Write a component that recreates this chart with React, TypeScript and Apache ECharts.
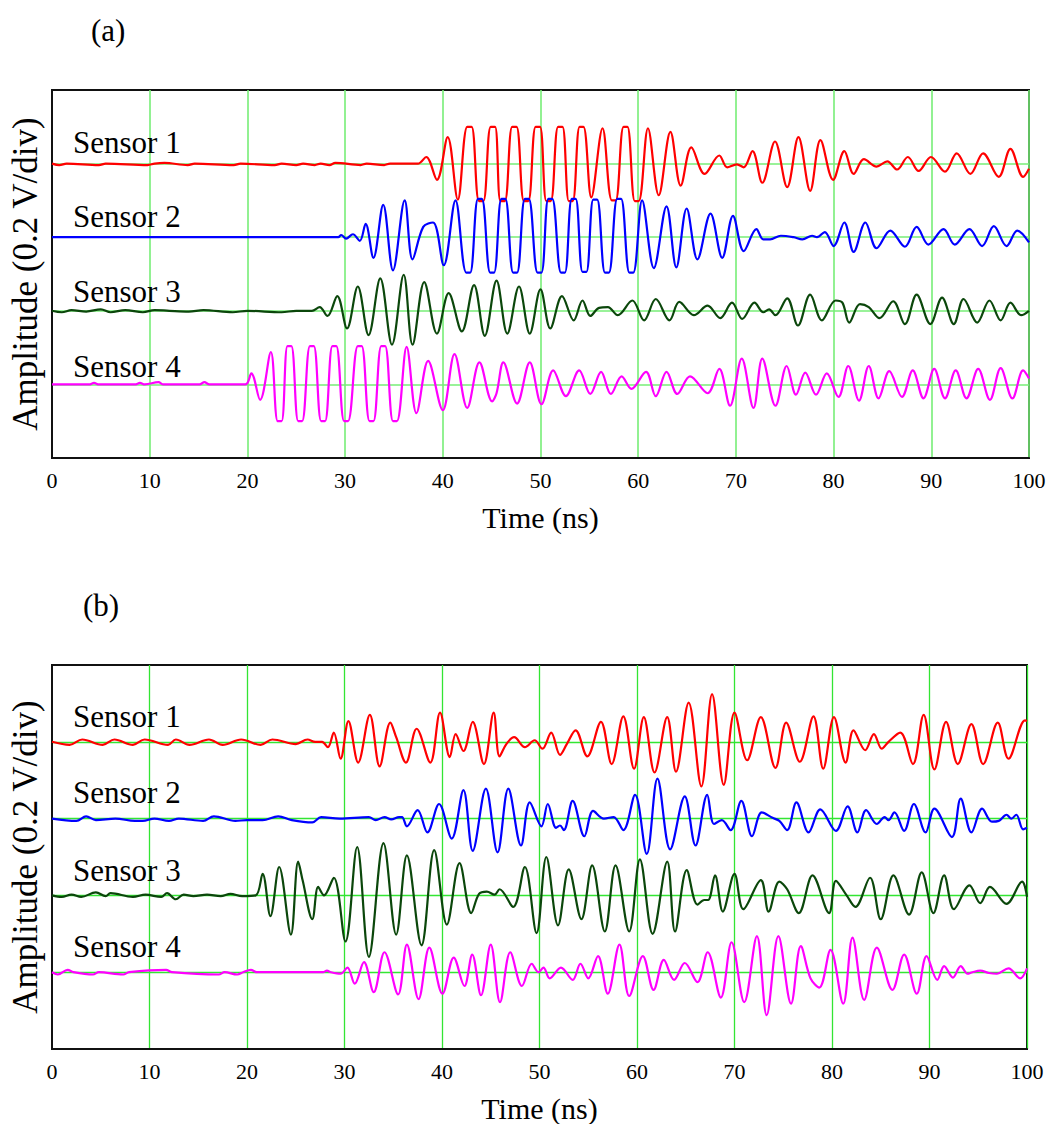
import React, { useEffect, useRef } from "react";
import * as echarts from "echarts";

type P = [number, number];

const xTickStep = 10;
const sensorNames = ["Sensor 1", "Sensor 2", "Sensor 3", "Sensor 4"];
const sensorBaselines = [4, 3, 2, 1];
const sensorColors = ["#ff0000", "#0000ff", "#0b470b", "#ff00ff"];
const panelTags = ["(a)", "(b)"];
const xAxisTitle = "Time (ns)";
const yAxisTitle = "Amplitude (0.2 V/div)";

// Panel (a): [time ns, offset from the sensor's baseline in divisions]
const a1: P[] = [
  [0, 0], [0.75, -0.02], [1.5, 0], [4.8, -0.02], [5.5, 0], [9.8, -0.02], [10.5, 0], [11.5, 0.01], [13.9, -0.02], [14.6, 0],
  [18.6, -0.02], [19.3, 0], [22.8, -0.02], [23.5, 0], [25, -0.02], [25.7, 0], [26.9, -0.02], [27.5, 0], [28.4, -0.02], [29, 0.01],
  [31.6, -0.02], [32.2, 0], [34.0, -0.02], [34.6, 0], [37.45, 0], [38.3, 0.09], [39.4, -0.22], [40.5, 0.36], [41.54, -0.49],
  [42.5, 0.5], [42.95, 0.5], [43.7, -0.51], [44.15, -0.51], [44.9, 0.5], [45.35, 0.5], [45.9, -0.51], [46.35, -0.51],
  [47.1, 0.5], [47.55, 0.5], [48.3, -0.51], [48.75, -0.51], [49.5, 0.5], [49.95, 0.5], [50.6, -0.51], [51.05, -0.51],
  [51.8, 0.5], [52.25, 0.5], [52.9, -0.51], [53.3, -0.51], [54.0, 0.5], [54.4, 0.5], [55.2, -0.46], [56.35, 0.48],
  [57.3, -0.5], [57.7, -0.5], [58.5, 0.5], [58.9, 0.5], [59.65, -0.51], [60.05, -0.51], [61.0, 0.48], [62.1, -0.43],
  [63.3, 0.43], [64.35, -0.3], [65.44, 0.22], [66.8, -0.14], [68.3, 0.11], [69.1, -0.05], [70.1, -0.01], [70.8, -0.05],
  [71.7, 0.17], [72.7, -0.26], [74.0, 0.3], [75.25, -0.32], [76.4, 0.36], [77.6, -0.37], [78.65, 0.32], [79.95, -0.22],
  [81.1, 0.17], [82.05, -0.14], [83.1, 0.06], [84.4, -0.04], [85.5, 0.03], [86.5, -0.08], [87.6, 0.09], [88.7, -0.1],
  [89.96, 0.09], [91.4, -0.11], [92.6, 0.14], [94.0, -0.14], [95.3, 0.14], [96.9, -0.18], [98.1, 0.2], [99.4, -0.18], [100, -0.07],
];
const a2: P[] = [
  [0, 0], [29.3, 0], [29.6, 0.03], [30.1, -0.02], [30.8, 0.04], [31.5, -0.05], [32.1, 0.18], [32.9, -0.28], [33.9, 0.44],
  [34.9, -0.45], [36.1, 0.5], [36.9, -0.3], [38.0, 0.14], [39.0, 0.2], [40.1, -0.38], [41.3, 0.5],
  [42.4, -0.48], [42.8, -0.48], [43.6, 0.52], [44.0, 0.52], [44.85, -0.48], [45.25, -0.48], [46.0, 0.52], [46.4, 0.52],
  [47.2, -0.48], [47.6, -0.48], [48.4, 0.52], [48.8, 0.52], [49.7, -0.48], [50.1, -0.48], [50.8, 0.52], [51.2, 0.52],
  [52.1, -0.48], [52.5, -0.48], [53.2, 0.52], [53.6, 0.52], [54.3, -0.47], [54.7, -0.47], [55.4, 0.51], [55.8, 0.51],
  [56.6, -0.48], [57.0, -0.48], [57.85, 0.52], [58.25, 0.52], [59.1, -0.48], [59.5, -0.48], [60.4, 0.5], [61.6, -0.42],
  [62.9, 0.42], [63.9, -0.41], [64.96, 0.39], [66.06, -0.3], [67.4, 0.32], [68.6, -0.28], [69.7, 0.29], [70.8, -0.19],
  [72.1, 0.11], [72.8, -0.03], [73.5, -0.03], [74.6, 0.02], [75.9, 0], [76.8, -0.03], [77.8, 0.02], [78.3, 0], [79.1, 0.07],
  [80.0, -0.12], [81.1, 0.2], [82.05, -0.2], [83.25, 0.2], [84.4, -0.15], [85.8, 0.09], [87.3, -0.13], [88.5, 0.14],
  [89.7, -0.1], [91.25, 0.11], [92.4, -0.1], [93.9, 0.11], [95.2, -0.12], [96.4, 0.15], [97.7, -0.12], [98.8, 0.09], [100, -0.07],
];
const a3: P[] = [
  [0, 0], [1, -0.02], [2, 0.01], [3.5, -0.01], [5, 0.02], [6, -0.02], [7.5, 0.01], [9.3, -0.02], [10.5, 0.01], [12, 0],
  [14, -0.01], [15.5, 0.01], [18.5, -0.02], [20, 0], [23.5, -0.02], [25, 0], [26.6, 0], [27.4, 0.05], [28.2, -0.07],
  [29.2, 0.2], [30.2, -0.24], [31.3, 0.33], [32.4, -0.33], [33.6, 0.44], [34.8, -0.46], [36.0, 0.49], [36.9, -0.46],
  [38.1, 0.39], [39.4, -0.31], [40.6, 0.24], [41.95, -0.28], [43.2, 0.35], [44.3, -0.34], [45.5, 0.41], [46.6, -0.31],
  [47.8, 0.33], [48.9, -0.31], [50.0, 0.29], [51.0, -0.24], [52.2, 0.2], [53.4, -0.13], [54.3, 0.14], [55.1, -0.07],
  [56.0, 0.04], [56.9, 0.05], [57.9, -0.06], [59.4, 0.14], [60.6, -0.13], [61.8, 0.16], [63.2, -0.13], [64.2, 0.12],
  [65.7, -0.06], [67.1, 0.07], [68.4, -0.1], [69.6, 0.11], [70.65, -0.11], [71.9, 0.11], [72.8, -0.02], [73.4, 0.02],
  [74.05, -0.06], [75.25, 0.17], [76.35, -0.2], [77.6, 0.22], [78.8, -0.13], [80.2, 0.14], [80.9, 0.11], [81.6, -0.16],
  [82.7, 0.09], [83.6, 0.05], [84.7, -0.1], [86.1, 0.13], [87.3, -0.18], [88.5, 0.22], [89.9, -0.18], [91.1, 0.18],
  [92.3, -0.18], [93.3, 0.16], [94.7, -0.16], [95.95, 0.14], [97.1, -0.13], [98.1, 0.11], [99.2, -0.06], [100, 0],
];
const a4: P[] = [
  [0, 0], [3.8, 0], [4.3, 0.02], [4.8, 0], [8.5, 0], [9.0, 0.02], [9.5, 0], [10.9, 0.03], [11.4, 0], [15.1, 0], [15.6, 0.03],
  [16.1, 0], [19.8, 0], [20.4, 0.15], [21.3, -0.21], [22.4, 0.44],
  [23.1, -0.5], [23.5, -0.5], [24.1, 0.52], [24.5, 0.52], [25.2, -0.5], [25.6, -0.5], [26.4, 0.52], [26.8, 0.52],
  [27.55, -0.5], [27.95, -0.5], [28.7, 0.52], [29.1, 0.52], [29.9, -0.5], [30.3, -0.5], [31.3, 0.52], [31.7, 0.52],
  [32.5, -0.5], [32.9, -0.5], [33.7, 0.52], [34.1, 0.52], [34.9, -0.5], [35.3, -0.5], [36.3, 0.51], [37.3, -0.39],
  [38.5, 0.32], [40.0, -0.35], [41.2, 0.41], [42.5, -0.32], [43.75, 0.3], [45.05, -0.23], [45.5, -0.12], [46.2, 0.3],
  [47.6, -0.26], [48.9, 0.3], [50.1, -0.27], [51.3, 0.19], [52.6, -0.16], [53.96, 0.19], [55.1, -0.13], [56.2, 0.17],
  [57.2, -0.13], [58.3, 0.11], [59.3, -0.06], [60.8, 0.17], [61.8, -0.16], [62.9, 0.17], [64.0, -0.13], [65.3, 0.11],
  [67.1, -0.12], [68.3, 0.21], [69.4, -0.29], [70.6, 0.35], [71.8, -0.32], [72.7, 0.35], [74.05, -0.29], [75.2, 0.25],
  [76.15, -0.14], [77.1, 0.16], [78.2, -0.14], [79.3, 0.15], [80.5, -0.17], [81.5, 0.25], [82.6, -0.22], [83.6, 0.25],
  [84.6, -0.19], [85.7, 0.18], [87.0, -0.17], [88.1, 0.19], [89.2, -0.19], [90.3, 0.21], [91.4, -0.19], [92.5, 0.19],
  [93.6, -0.19], [94.8, 0.21], [96.0, -0.21], [97.1, 0.22], [98.3, -0.19], [99.4, 0.19], [100, 0.08],
];

// Panel (b)
const b1: P[] = [
  [0, 0], [1.8, -0.04], [3.1, 0.03], [5.2, -0.04], [6.4, 0.03], [8.3, -0.04], [9.5, 0.03], [11.9, -0.04], [12.7, 0.03],
  [14.1, -0.04], [16.1, 0.03], [17.5, -0.04], [19.4, 0.03], [21.4, -0.04], [22.6, 0.03], [25.0, -0.03], [26.2, 0.03],
  [27.0, 0], [27.7, 0], [28.3, -0.07], [28.9, 0.12], [29.6, -0.22], [30.4, 0.27], [31.4, -0.27], [32.6, 0.35], [33.6, -0.32],
  [34.7, 0.25], [35.3, 0.06], [36.3, -0.27], [37.4, 0.17], [38.8, -0.27], [39.8, 0.38], [40.8, -0.2], [41.4, 0.1],
  [42.2, -0.12], [43.15, 0.26], [44.3, -0.29], [45.3, 0.38], [45.9, -0.19], [46.6, -0.03], [47.4, 0.06], [48.5, -0.07],
  [49.5, 0.02], [50.3, -0.09], [51.2, 0.12], [52.1, -0.17], [52.8, -0.03], [53.7, 0.15], [54.9, -0.19], [56.3, 0.26],
  [57.4, -0.29], [58.6, 0.33], [59.7, -0.35], [60.7, 0.32], [61.8, -0.4], [63.1, 0.32], [64.0, -0.39], [65.3, 0.51],
  [66.6, -0.58], [67.7, 0.62], [68.9, -0.56], [70.0, 0.38], [71.3, -0.24], [72.7, 0.32], [74.2, -0.34], [75.3, 0.25],
  [76.7, -0.26], [78.1, 0.33], [79.1, -0.35], [80.2, 0.32], [81.4, -0.27], [82.2, 0.15], [83.4, -0.11], [84.3, 0.1],
  [85.1, -0.09], [85.8, 0], [87.0, 0.12], [88.3, -0.29], [89.4, 0.35], [90.5, -0.36], [91.7, 0.26], [92.9, -0.29],
  [94.3, 0.23], [95.5, -0.29], [97.0, 0.25], [98.1, -0.22], [99.8, 0.28], [100, 0.27],
];
const b2: P[] = [
  [0, 0], [2.5, -0.03], [3.5, 0.03], [4.5, -0.02], [6.5, 0], [8.5, -0.03], [9.3, -0.03], [10.5, 0], [12, -0.03], [13, 0],
  [15.5, -0.03], [16.6, 0.03], [18.8, -0.03], [20, -0.02], [21.6, -0.02], [23.2, 0.03], [24.6, -0.02], [26.7, -0.05],
  [27.6, 0.02], [29.5, 0], [32.5, 0.02], [33.2, -0.02], [34.1, 0.02], [34.8, -0.01], [35.6, 0.02], [35.9, 0.02],
  [36.4, -0.1], [37.5, 0.11], [38.5, -0.18], [39.7, 0.19], [41.0, -0.26], [42.2, 0.37], [43.15, -0.42], [44.5, 0.39],
  [45.7, -0.44], [46.8, 0.39], [48.1, -0.35], [49.0, 0.21], [50.2, -0.1], [50.85, 0.19], [51.7, -0.12], [52.1, -0.09],
  [52.5, -0.15], [53.4, 0.23], [54.6, -0.23], [55.5, 0.1], [56.6, 0], [57.6, 0.02], [58.6, -0.15], [59.8, 0.31],
  [61.0, -0.46], [62.1, 0.52], [63.4, -0.4], [64.9, 0.29], [66.0, -0.35], [67.2, 0.31], [67.9, -0.07], [68.7, -0.02],
  [69.6, -0.15], [70.7, 0.23], [71.8, -0.23], [72.8, 0.08], [73.9, 0.01], [74.6, -0.03], [75.4, -0.15], [76.35, 0.21],
  [77.6, -0.18], [78.8, 0.12], [80.4, -0.16], [81.6, 0.16], [82.6, -0.18], [83.5, 0.11], [84.6, -0.07], [85.4, 0.02],
  [85.8, -0.02], [86.4, 0.08], [87.4, -0.16], [88.4, 0.19], [89.6, -0.18], [90.5, 0.13], [92.3, -0.24], [93.2, 0.26],
  [94.3, -0.18], [95.4, 0.13], [96.4, -0.04], [97.1, -0.03], [97.9, 0.05], [98.4, 0], [98.9, 0.05], [99.6, -0.14], [100, -0.12],
];
const b3: P[] = [
  [0, 0], [1, -0.02], [2, 0.01], [3, -0.02], [4.5, 0.04], [5.5, -0.01], [6, 0.03], [8.3, -0.02], [9.6, 0.01], [11.2, -0.02],
  [11.8, 0.03], [12.7, -0.05], [13.5, 0.01], [14.5, -0.01], [15.9, 0.01], [17.3, -0.01], [18.3, 0.02], [19.5, -0.01],
  [20.9, 0], [21.6, 0.28], [22.4, -0.27], [23.3, 0.37], [24.5, -0.51], [25.25, 0.44], [25.7, 0.2], [26.7, -0.31],
  [27.3, 0.11], [27.9, 0], [28.9, 0.23], [30.1, -0.6], [31.3, 0.63], [32.5, -0.8], [34.0, 0.68], [35.3, -0.51],
  [36.4, 0.52], [37.9, -0.65], [39.2, 0.59], [40.5, -0.38], [41.8, 0.42], [43.0, -0.23], [43.8, 0.02], [44.6, 0.05],
  [45.4, 0.01], [45.9, 0.08], [47.3, -0.15], [48.5, 0.37], [49.7, -0.49], [50.7, 0.5], [51.9, -0.39], [53.0, 0.34],
  [54.3, -0.31], [55.4, 0.39], [56.7, -0.47], [57.8, 0.39], [59.2, -0.47], [60.3, 0.47], [61.6, -0.5], [63.1, 0.44],
  [63.9, -0.47], [65.1, 0.33], [66.2, -0.12], [66.9, -0.06], [67.3, -0.06], [68.0, 0.26], [68.8, -0.21], [70.0, 0.28],
  [70.9, -0.18], [72.7, 0.2], [73.5, -0.21], [74.6, 0.18], [75.4, 0.08], [76.6, -0.23], [78.0, 0.26], [79.7, -0.23],
  [80.4, 0.19], [81.5, 0], [82.4, -0.15], [83.9, 0.23], [85.0, -0.31], [86.3, 0.26], [87.9, -0.25], [89.2, 0.3],
  [90.4, -0.23], [91.5, 0.26], [92.5, -0.18], [94.1, 0.13], [95.2, -0.1], [96.2, 0.11], [97.9, -0.11], [99.5, 0.18], [100, -0.02],
];
const b4: P[] = [
  [0, 0], [0.6, -0.03], [1.6, 0.03], [2.2, 0], [4.2, -0.03], [4.8, 0], [7.3, -0.03], [7.9, 0], [11.7, 0.03], [12.3, 0],
  [17.1, -0.03], [17.7, 0], [19.0, -0.03], [19.6, 0], [20.4, 0.03], [21, 0], [27.8, 0], [28.2, 0.02], [28.6, 0],
  [29.6, -0.02], [30.3, 0.06], [31.05, -0.15], [32.0, 0.13], [33.0, -0.26], [34.1, 0.26], [35.5, -0.29], [36.4, 0.36],
  [37.6, -0.35], [38.7, 0.32], [40.05, -0.28], [41.2, 0.19], [42.3, -0.18], [43.1, 0.23], [44.0, -0.3], [45.0, 0.36],
  [45.95, -0.39], [47.0, 0.26], [48.2, -0.18], [49.2, 0.11], [49.9, 0], [50.4, 0.06], [51.05, -0.08], [52.2, 0.06],
  [53.4, -0.1], [54.2, 0.11], [55.0, -0.08], [56.0, 0.21], [57.0, -0.28], [58.2, 0.36], [59.2, -0.31], [60.6, 0.21],
  [61.7, -0.23], [62.75, 0.16], [63.8, -0.1], [64.9, 0.12], [66.2, -0.13], [67.25, 0.26], [68.6, -0.33], [69.7, 0.39],
  [71.0, -0.39], [72.3, 0.47], [73.3, -0.56], [74.5, 0.47], [75.8, -0.41], [76.8, 0.34], [77.8, -0.08], [78.7, -0.2],
  [79.85, 0.29], [81.15, -0.41], [82.1, 0.45], [83.3, -0.36], [84.6, 0.32], [86.2, -0.23], [87.4, 0.23], [88.7, -0.28],
  [89.7, 0.21], [90.8, -0.1], [91.5, 0.08], [92.4, -0.07], [93.2, 0.08], [93.9, -0.02], [94.4, 0], [95.2, 0.02],
  [96.1, -0.01], [96.9, -0.02], [98.1, 0.05], [99.3, -0.08], [100, 0.05],
];

const panelSeries: P[][][] = [
  [a1, a2, a3, a4],
  [b1, b2, b3, b4],
];

const SERIF = "'Liberation Serif', 'Times New Roman', Times, serif";
const GRID_GREENS = ["#77ee77", "#33e533"];

export default function App() {
  const ref = useRef<HTMLDivElement>(null);

  useEffect(() => {
    if (!ref.current) return;
    const chart = echarts.init(ref.current, undefined, { renderer: "svg" });

    const grids = [
      { left: 50, top: 90, width: 979, height: 368 },
      { left: 50, top: 665, width: 977, height: 384 },
    ];

    const xAxes = grids.map((_, i) => ({
      type: "value",
      gridIndex: i,
      min: 0,
      max: 100,
      interval: xTickStep,
      name: xAxisTitle,
      nameLocation: "middle",
      nameGap: 44,
      nameTextStyle: { fontFamily: SERIF, fontSize: 30, color: "#000" },
      axisLine: { show: true, lineStyle: { color: "#111", width: 2 } },
      axisTick: { show: false },
      axisLabel: { fontFamily: SERIF, fontSize: 22, color: "#000", margin: 11 },
      splitLine: {
        show: true,
        showMinLine: false,
        showMaxLine: true,
        lineStyle: { color: GRID_GREENS[i], width: i === 0 ? 1.6 : 1.3 },
      },
    }));

    const yAxes = grids.map((_, i) => ({
      type: "value",
      gridIndex: i,
      min: 0,
      max: 5,
      interval: 1,
      name: yAxisTitle,
      nameLocation: "middle",
      nameRotate: 90,
      nameGap: 9,
      nameTextStyle: { fontFamily: SERIF, fontSize: 35, color: "#000" },
      axisLine: { show: true, lineStyle: { color: "#111", width: 2 } },
      axisTick: { show: false },
      axisLabel: { show: false },
      splitLine: {
        show: true,
        showMinLine: false,
        showMaxLine: false,
        lineStyle: { color: GRID_GREENS[i], width: i === 0 ? 1.6 : 1.3 },
      },
    }));

    const series: any[] = [];
    panelSeries.forEach((sensors, pi) => {
      sensors.forEach((pts, si) => {
        series.push({
          type: "line",
          name: `${panelTags[pi]} ${sensorNames[si]}`,
          xAxisIndex: pi,
          yAxisIndex: pi,
          data: pts.map(([t, v]) => [t, sensorBaselines[si] + v]),
          symbol: "none",
          smooth: 0.35,
          silent: true,
          z: 3,
          lineStyle: { color: sensorColors[si], width: 2.2 },
          itemStyle: { color: sensorColors[si] },
        });
      });
    });

    const labelY = [
      [142, 216, 291, 366],
      [716, 792, 870, 946],
    ];
    const tagPos = [
      { x: 91, y: 30 },
      { x: 83, y: 605 },
    ];
    const graphic: any[] = [];
    labelY.forEach((ys, pi) => {
      ys.forEach((y, si) => {
        graphic.push({
          type: "text",
          x: 73,
          y,
          z: 10,
          style: {
            text: sensorNames[si],
            font: `31px ${SERIF}`,
            fill: "#000",
            textVerticalAlign: "middle",
            verticalAlign: "middle",
          },
        });
      });
      graphic.push({
        type: "text",
        x: tagPos[pi].x,
        y: tagPos[pi].y,
        style: {
          text: panelTags[pi],
          font: `31px ${SERIF}`,
          fill: "#000",
          textVerticalAlign: "middle",
          verticalAlign: "middle",
        },
      });
    });

    chart.setOption({
      animation: false,
      backgroundColor: "#fff",
      grid: grids.map((g) => ({ ...g, show: true, borderColor: "#111", borderWidth: 2, backgroundColor: "transparent" })),
      xAxis: xAxes,
      yAxis: yAxes,
      series,
      graphic,
    });

    return () => chart.dispose();
  }, []);

  return (
    <div
      ref={ref}
      style={{ position: "absolute", left: 0, top: 0, width: 1053, height: 1124, background: "#fff" }}
    />
  );
}
